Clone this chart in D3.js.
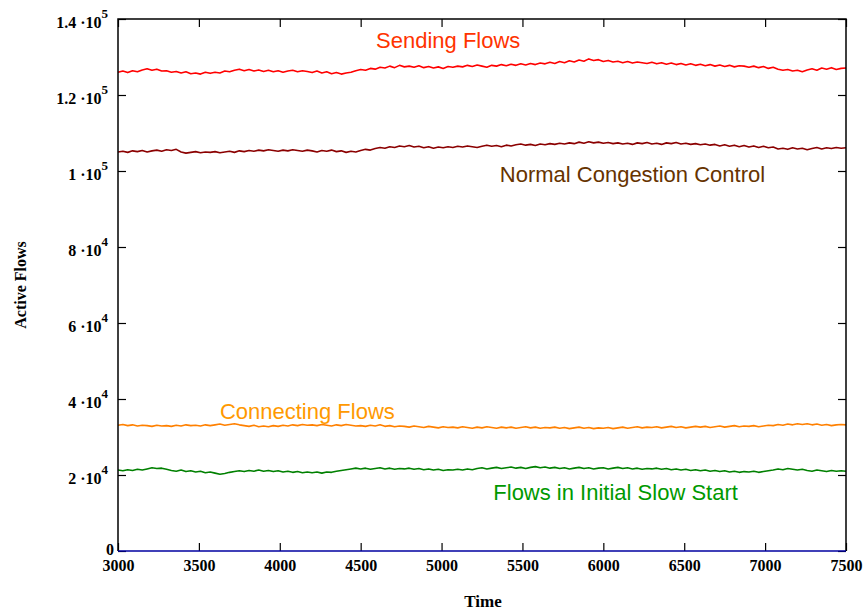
<!DOCTYPE html>
<html>
<head>
<meta charset="utf-8">
<script src="https://cdn.jsdelivr.net/npm/d3@7"></script>
<style>
  html, body { margin: 0; padding: 0; background: #fff; }
  svg { display: block; }
  .tick text { font-family: "Liberation Serif", "Times New Roman", serif; font-weight: bold; font-size: 16px; fill: #000; }
  .title { font-family: "Liberation Serif", "Times New Roman", serif; font-weight: bold; fill: #000; }
  .series-label { font-family: "Liberation Sans", Arial, sans-serif; font-size: 22px; }
</style>
</head>
<body>
<svg id="chart" width="866" height="612"></svg>
<script>
// Sample times (seconds), one sample every 30 s
const tStart = 3000, tStep = 30;

// Active flow counts, in thousands of flows
const sendingFlows = [
  126.0, 126.3, 125.9, 126.4, 126.1, 126.6, 126.9, 126.5, 126.8, 126.3,
  126.4, 126.0, 126.2, 125.8, 126.1, 125.6, 125.8, 125.5, 126.0, 125.7,
  126.0, 125.8, 126.3, 126.1, 126.5, 126.8, 126.4, 126.7, 126.3, 126.6,
  126.2, 126.5, 126.1, 126.4, 126.0, 126.3, 126.5, 126.1, 126.4, 126.2,
  125.9, 126.3, 125.8, 126.1, 125.6, 125.9, 125.5, 125.8, 126.0, 126.4,
  126.7, 126.5, 127.0, 126.8, 127.3, 127.1, 127.6, 127.2, 127.8, 127.4,
  127.6, 127.3, 127.7, 127.2, 127.5, 127.1, 127.4, 127.0, 127.5, 127.3,
  127.6, 127.4, 127.8, 127.5, 127.9, 127.6, 127.3, 127.8, 127.6, 128.0,
  127.7, 128.1, 127.8, 128.2, 127.9, 128.3, 128.0, 128.4, 128.2, 128.6,
  128.3, 128.8, 128.5, 129.0, 128.7, 129.2, 128.9, 129.5, 129.1, 129.3,
  128.8, 129.1, 128.7, 128.9, 128.5, 128.8, 128.4, 128.7, 128.5, 128.3,
  128.6, 128.2, 128.5, 128.1, 128.4, 128.0, 128.3, 127.9, 128.2, 127.8,
  128.1, 127.7, 128.0, 127.6, 127.9, 127.5, 127.8, 127.4, 127.7, 127.6,
  127.3, 127.6, 127.2, 127.5, 127.0, 127.3, 126.8, 126.5, 126.7, 126.3,
  126.5, 126.1, 126.6, 126.9, 126.5, 127.1, 126.8, 127.2, 126.7, 127.0,
  127.1
];

const normalCongestion = [
  105.0, 105.2, 104.9, 105.3, 105.1, 105.4, 105.0, 105.3, 105.5, 105.2,
  105.6, 105.4, 105.7, 105.0, 104.7, 104.9, 105.1, 104.8, 105.0, 104.9,
  105.1, 104.8, 105.0, 105.2, 104.9, 105.3, 105.1, 105.4, 105.2, 105.5,
  105.3, 105.6, 105.4, 105.2, 105.5, 105.3, 105.6, 105.4, 105.2, 105.5,
  105.3, 105.0, 105.4, 105.2, 105.5, 105.1, 105.3, 104.9, 105.2, 105.0,
  105.4, 105.7, 105.5, 105.9, 106.2, 106.0, 106.4, 106.2, 106.6, 106.4,
  106.7, 106.3, 106.5, 106.1, 106.4, 106.0, 106.3, 106.1, 106.4, 106.2,
  106.5, 106.3, 106.6, 106.4, 106.2, 106.5, 106.8, 106.5, 106.7, 106.4,
  106.8, 106.6, 106.9, 107.1, 106.8, 107.0, 106.7, 107.1, 106.9, 107.2,
  107.0, 107.3, 107.1, 107.4, 107.2, 107.6, 107.3, 107.7, 107.4, 107.6,
  107.3, 107.5, 107.2, 107.4, 107.1, 107.3, 107.0, 107.4, 107.2, 107.5,
  107.1, 107.3, 107.0, 107.4, 107.2, 107.5, 107.1, 107.3, 107.0, 107.2,
  106.9, 107.1, 106.8, 107.0, 106.6, 106.9, 106.5, 106.8, 106.4, 106.7,
  106.3, 106.6, 106.2, 106.5, 106.1, 106.3, 105.8, 106.0, 105.7, 106.1,
  105.8, 106.0, 105.6, 105.9, 106.2, 105.8, 106.1, 105.9, 106.2, 106.0,
  106.1
];

const connectingFlows = [
  33.1, 33.3, 33.0, 33.2, 32.9, 33.1, 33.0, 32.8, 33.1, 32.9,
  33.0, 32.8, 33.1, 32.9, 33.2, 33.0, 33.1, 32.9, 33.2, 33.0,
  33.2, 33.4, 33.1, 33.3, 33.5, 33.2, 33.0, 32.8, 33.1, 32.7,
  32.9, 32.7, 33.0, 32.8, 33.1, 32.9, 33.2, 33.0, 33.3, 33.1,
  33.2, 33.0, 33.3, 33.1, 32.9, 33.2, 33.0, 33.3, 33.1, 32.9,
  33.0, 32.8, 33.1, 32.9, 33.2, 32.8, 33.0, 32.7, 32.9, 32.8,
  32.6, 32.9, 32.7, 32.5, 32.8, 32.6, 32.4, 32.7, 32.5, 32.6,
  32.4, 32.7, 32.5, 32.3, 32.6, 32.4, 32.7, 32.5, 32.3, 32.6,
  32.4, 32.6, 32.3, 32.5, 32.7, 32.4, 32.6, 32.3, 32.5, 32.4,
  32.6, 32.3, 32.5, 32.2, 32.4, 32.6, 32.3, 32.5, 32.2, 32.4,
  32.3, 32.5, 32.2, 32.4, 32.6, 32.3, 32.5, 32.7, 32.4, 32.6,
  32.5, 32.7, 32.4, 32.6, 32.8, 32.5, 32.7, 32.4, 32.6, 32.8,
  32.6, 32.8, 32.5, 32.7, 32.9, 32.6, 32.8, 33.0, 32.7, 32.9,
  32.8, 33.0, 32.7, 32.9, 33.1, 33.0, 33.3, 33.1, 33.4, 33.2,
  33.5, 33.3, 33.5, 33.2, 33.4, 33.1, 33.3, 33.0, 33.2, 33.3,
  33.2
];

const slowStartFlows = [
  21.3, 21.1, 21.4, 21.2, 21.5, 21.3, 21.6, 21.9, 21.7, 21.8,
  21.5, 21.2, 21.0, 21.3, 20.9, 21.1, 20.8, 21.0, 20.6, 20.8,
  20.5, 20.2, 20.4, 20.7, 20.9, 21.1, 20.9, 21.2, 21.0, 21.3,
  21.0, 21.2, 20.9, 21.1, 20.8, 21.0, 20.7, 20.9, 20.6, 20.8,
  20.6, 20.8, 20.5, 20.8, 20.7, 21.0, 21.2, 21.4, 21.6, 21.8,
  21.6, 21.8, 21.5, 21.7, 21.9, 21.6, 21.8, 21.5, 21.7, 21.6,
  21.8, 21.5, 21.7, 21.4, 21.6, 21.3, 21.5, 21.2, 21.4, 21.3,
  21.5, 21.3, 21.6, 21.4, 21.7, 21.9, 21.6, 21.8, 22.0, 21.7,
  21.9, 22.1, 21.8, 22.0, 21.7, 22.0, 22.2, 21.9, 22.1, 21.8,
  22.0, 21.7, 21.9, 21.6, 21.8, 22.0, 21.7, 21.9, 21.6, 21.8,
  21.9, 21.6, 21.8, 22.0, 21.7, 21.9, 21.6, 21.8, 21.5, 21.7,
  21.6, 21.8, 21.5, 21.7, 21.4, 21.6, 21.3, 21.5, 21.2, 21.4,
  21.1, 21.3, 21.0, 21.2, 20.9, 21.1, 20.8, 21.0, 20.7, 20.9,
  20.8, 21.0, 20.7, 20.9, 21.1, 21.3, 21.6, 21.4, 21.7, 21.5,
  21.3, 21.5, 21.2, 21.0, 21.3, 21.1, 20.9, 21.2, 21.0, 21.1,
  21.0
];

// Baseline series (flows that stay at zero)
const idleTimes = [3000, 7500];
const idleFlows = [0, 0];

// Axis ticks
const xTicks = [3000, 3500, 4000, 4500, 5000, 5500, 6000, 6500, 7000, 7500];
const yTicks = [0, 20, 40, 60, 80, 100, 120, 140];
const yTickMantissa = ["0", "2", "4", "6", "8", "1", "1.2", "1.4"];
const yTickExponent = ["", "4", "4", "4", "4", "5", "5", "5"];

const seriesNames = ["Sending Flows", "Normal Congestion Control", "Connecting Flows", "Flows in Initial Slow Start"];
const seriesValues = [sendingFlows, normalCongestion, connectingFlows, slowStartFlows];
const lineColors = ["#ff0000", "#8b0000", "#ff8000", "#008000"];
const labelColors = ["#ff3300", "#663300", "#ff9900", "#009900"];
// label anchor: time and flow level (thousands) of the text baseline start
const labelTimes = [4595, 5360, 3630, 5320];
const labelLevels = [132.5, 97.0, 34.7, 13.3];

const W = 866, H = 612;
const plot = { left: 118, right: 846, top: 19, bottom: 551 };

const x = d3.scaleLinear().domain([3000, 7500]).range([plot.left, plot.right]);
const y = d3.scaleLinear().domain([0, 140]).range([plot.bottom, plot.top]);

const svg = d3.select("#chart");

// series lines
const line = d3.line().x(d => x(d[0])).y(d => y(d[1]));
seriesValues.forEach((vals, i) => {
  const pts = vals.map((v, k) => [tStart + k * tStep, v]);
  svg.append("path")
    .datum(pts)
    .attr("fill", "none")
    .attr("stroke", lineColors[i])
    .attr("stroke-width", 1.6)
    .attr("stroke-linejoin", "round")
    .attr("d", line);
});

// bottom axis (ticks + labels)
const gx = svg.append("g")
  .attr("transform", `translate(0,${plot.bottom})`)
  .call(d3.axisBottom(x).tickValues(xTicks).tickSize(-8).tickPadding(9).tickFormat(d3.format("d")));
gx.select(".domain").remove();
gx.selectAll(".tick line").attr("stroke", "#000").attr("stroke-width", 1.2);

// top mirror ticks
const gxt = svg.append("g")
  .attr("transform", `translate(0,${plot.top})`)
  .call(d3.axisTop(x).tickValues(xTicks).tickSize(-8).tickFormat(""));
gxt.select(".domain").remove();
gxt.selectAll(".tick line").attr("stroke", "#000").attr("stroke-width", 1.2);

// left axis with scientific labels
const gy = svg.append("g")
  .attr("transform", `translate(${plot.left},0)`)
  .call(d3.axisLeft(y).tickValues(yTicks).tickSize(-8).tickPadding(10).tickFormat(""));
gy.select(".domain").remove();
gy.selectAll(".tick line").attr("stroke", "#000").attr("stroke-width", 1.2);
gy.selectAll(".tick text").each(function(d, i) {
  const t = d3.select(this).text(null);
  if (yTickExponent[i] === "") {
    t.attr("x", -4).attr("dy", "0.2em").attr("font-size", "15px").text(yTickMantissa[i]);
    return;
  }
  t.attr("x", -10).attr("dy", "0.5em");
  t.append("tspan").text(yTickMantissa[i] + " \u00b710");
  t.append("tspan").attr("font-size", "13px").attr("dy", "-0.72em").text(yTickExponent[i]);
});

// right mirror ticks
const gyr = svg.append("g")
  .attr("transform", `translate(${plot.right},0)`)
  .call(d3.axisRight(y).tickValues(yTicks).tickSize(-8).tickFormat(""));
gyr.select(".domain").remove();
gyr.selectAll(".tick line").attr("stroke", "#000").attr("stroke-width", 1.2);

// frame
svg.append("path")
  .attr("fill", "none")
  .attr("stroke", "#000")
  .attr("stroke-width", 1.5)
  .attr("d", `M${plot.left},${plot.bottom}V${plot.top}H${plot.right}V${plot.bottom}`);

// zero-level series along the bottom edge
svg.append("path")
  .datum(idleTimes.map((t, k) => [t, idleFlows[k]]))
  .attr("fill", "none")
  .attr("stroke", "#0000a0")
  .attr("stroke-width", 1.6)
  .attr("d", line);

// series labels
seriesNames.forEach((name, i) => {
  svg.append("text")
    .attr("class", "series-label")
    .attr("x", x(labelTimes[i]))
    .attr("y", y(labelLevels[i]))
    .attr("fill", labelColors[i])
    .text(name);
});

// axis titles
svg.append("text")
  .attr("class", "title")
  .attr("font-size", "17px")
  .attr("x", 483)
  .attr("y", 607)
  .attr("text-anchor", "middle")
  .text("Time");

svg.append("text")
  .attr("class", "title")
  .attr("font-size", "16px")
  .attr("transform", "translate(26,285) rotate(-90)")
  .attr("text-anchor", "middle")
  .text("Active Flows");
</script>
</body>
</html>
